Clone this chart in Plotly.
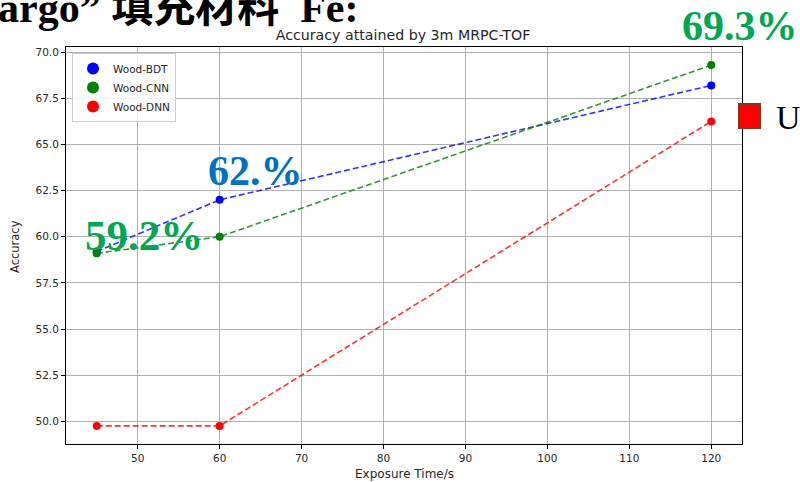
import plotly.graph_objects as go

# Exposure time (s) and classification accuracy (%) per model
exposure = [45, 60, 120]
acc_bdt = [59.2, 62.0, 68.2]
acc_cnn = [59.1, 60.0, 69.3]
acc_dnn = [49.75, 49.75, 66.25]

series_names = ["Wood-BDT", "Wood-CNN", "Wood-DNN"]
series_colors = ["blue", "green", "red"]

# Slide overlay texts
header_text = "argo\u201d 填充材料  Fe:"
callouts = [("69.3%", "#00A651"), ("62.%", "#0070C0"), ("59.2%", "#00A651")]
side_text = "U"

W, H = 800, 482
L, R, T, B = 66, 742, 47, 444  # plot area in pixels


def px(x, y):
    """Pixel position on the page -> paper coordinates."""
    return (x - L) / (R - L), (B - y) / (B - T)


fig = go.Figure()

for name, col, ys in zip(series_names, series_colors, [acc_bdt, acc_cnn, acc_dnn]):
    fig.add_trace(go.Scatter(
        x=exposure, y=ys, mode="lines", showlegend=False, opacity=0.8,
        line=dict(color=col, width=1.6, dash="6px,3px"), hoverinfo="skip"))
for name, col, ys in zip(series_names, series_colors, [acc_bdt, acc_cnn, acc_dnn]):
    fig.add_trace(go.Scatter(
        x=exposure, y=ys, mode="markers", name=name,
        marker=dict(color=col, size=8)))

tick_font = dict(family="DejaVu Sans", size=10.5, color="#262626")
axis_common = dict(
    showline=True, linecolor="black", linewidth=1, mirror=True,
    ticks="outside", ticklen=4, tickcolor="black", tickwidth=1,
    showgrid=True, gridcolor="#b0b0b0", gridwidth=1,
    zeroline=False, tickfont=tick_font)

fig.update_xaxes(range=[41.25, 123.75], tickvals=[50, 60, 70, 80, 90, 100, 110, 120],
                 **axis_common)
fig.update_yaxes(range=[48.77, 70.28],
                 tickvals=[50, 52.5, 55, 57.5, 60, 62.5, 65, 67.5, 70],
                 ticktext=["50.0", "52.5", "55.0", "57.5", "60.0", "62.5", "65.0", "67.5", "70.0"],
                 **axis_common)

annotations = []
# Axis labels
lx, ly = px(403, 474)
annotations.append(dict(x=0.5, y=ly, xref="paper", yref="paper", text="Exposure Time/s",
                        showarrow=False, xanchor="center", yanchor="middle",
                        font=dict(family="DejaVu Sans", size=12, color="#262626")))
lx, ly = px(15, 247)
annotations.append(dict(x=lx, y=ly, xref="paper", yref="paper", text="Accuracy",
                        showarrow=False, xanchor="center", yanchor="middle", textangle=-90,
                        font=dict(family="DejaVu Sans", size=11.5, color="#262626")))

serif_bold = "Liberation Serif, Noto Sans CJK SC"


def overlay(text, left, baseline, size, color, bold=True):
    # place text by its left edge and baseline (pixel units)
    x, _ = px(left, 0)
    _, y = px(0, baseline + 0.216 * size)
    label = "<b>%s</b>" % text if bold else text
    annotations.append(dict(x=x, y=y, xref="paper", yref="paper", text=label,
                            showarrow=False, xanchor="left", yanchor="bottom",
                            borderpad=0, borderwidth=0,
                            font=dict(family=serif_bold, size=size, color=color)))


overlay(header_text, -2, 22, 42, "black")
overlay(callouts[0][0], 682, 40, 42, callouts[0][1])
overlay(callouts[1][0], 208, 185, 42, callouts[1][1])
overlay(callouts[2][0], 85, 250, 43, callouts[2][1])
overlay(side_text, 776, 129, 34, "black", bold=False)

sx0, sy0 = px(739, 104)
sx1, sy1 = px(760, 128)

fig.update_layout(
    width=W, height=H,
    margin=dict(l=L, r=W - R, t=T, b=H - B),
    paper_bgcolor="white", plot_bgcolor="white",
    title=dict(text="Accuracy attained by 3m MRPC-TOF", x=(403 / W), xanchor="center",
               y=1 - 35 / H, yanchor="middle",
               font=dict(family="DejaVu Sans", size=14.2, color="#262626")),
    legend=dict(x=px(72, 0)[0], y=px(0, 53)[1], xanchor="left", yanchor="top",
                bgcolor="rgba(255,255,255,0.85)", bordercolor="#cccccc", borderwidth=1,
                font=dict(family="DejaVu Sans", size=10.5, color="#262626"),
                tracegroupgap=0, itemsizing="constant"),
    annotations=annotations,
    shapes=[dict(type="rect", xref="paper", yref="paper", x0=sx0, y0=sy0, x1=sx1, y1=sy1,
                 fillcolor="red", line=dict(color="#7a3b16", width=2))],
    showlegend=True,
)

fig.write_html("out.html")
